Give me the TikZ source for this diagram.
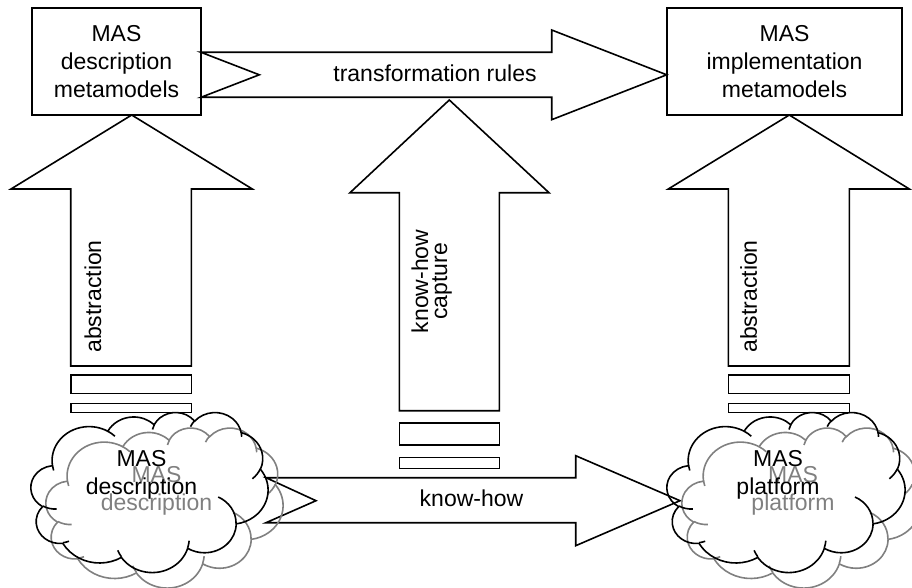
\documentclass[tikz,border=0pt]{standalone}
\usepackage{fontspec}
\setmainfont{Liberation Sans}

% Elliptic arc given by radii and by visual start/sweep angles (degrees):
% the visual angles are turned into the parametric ones TikZ expects.
\newcommand\ooarc[4]{arc[x radius=#1, y radius=#2,
  start angle={atan2((#1)*sin(#3),(#2)*cos(#3))},
  delta angle={mod(atan2((#1)*sin((#3)+(#4)),(#2)*cos((#3)+(#4)))-atan2((#1)*sin(#3),(#2)*cos(#3))+720,360)}]}

% Cloud outline on a 432 x 432 grid
\def\cloudoutline{(39.00,143.70)
  \ooarc{67.53}{91.90}{-190.4875}{123.7805}
  \ooarc{53.33}{72.67}{-144.1024}{89.9452}
  \ooarc{43.65}{59.45}{-145.8079}{99.7230}
  \ooarc{48.57}{65.95}{-130.9861}{117.2417}
  \ooarc{53.33}{72.73}{-78.7089}{109.0269}
  \ooarc{67.75}{92.20}{-46.2673}{130.2690}
  \ooarc{57.85}{78.67}{0.6250}{114.0333}
  \ooarc{67.52}{92.15}{22.4516}{115.1726}
  \ooarc{77.20}{105.43}{66.2426}{75.7110}
  \ooarc{43.60}{59.18}{-274.9421}{146.7356}
  \ooarc{43.45}{59.45}{-246.8285}{152.5189} -- cycle}

% Short inner arcs where the puffs meet
\def\cloudinner{
  (46.93,261.77) \ooarc{43.45}{59.45}{86.742}{26.4295}
  (69.28,348.99) \ooarc{43.60}{59.18}{73.6105}{11.4475}
  (164.78,390.90) \ooarc{67.52}{92.15}{137.6242}{14.0811}
  (288.27,347.51) \ooarc{67.52}{92.15}{6.4533}{15.9984}
  (341.29,229.54) \ooarc{57.85}{78.67}{-70.2924}{70.9174}
  (417.98,153.54) \ooarc{53.33}{72.73}{30.3180}{27.7515}
  (383.24,54.26) \ooarc{48.57}{65.95}{-13.7443}{14.8589}
  (290.78,39.52) \ooarc{48.57}{65.95}{-149.1815}{18.1954}
  (221.41,47.20) \ooarc{43.65}{59.45}{-163.4943}{17.6864}
  (140.00,51.92) \ooarc{67.53}{91.90}{-66.7070}{12.3194}
  (41.27,157.89) \ooarc{67.53}{91.90}{157.6544}{11.8582}}

% #1 = position of the top-left corner, #2 = width, #3 = height, #4 = colour
\newcommand\puffcloud[4]{%
  \begin{scope}[shift={#1}, x=#2pt/432, y=-#3pt/432]
    \draw[outline, draw=#4] \cloudoutline;
    \draw[outline, draw=#4] \cloudinner;
  \end{scope}}

\definecolor{shade}{RGB}{128,128,128}

\begin{document}
\begin{tikzpicture}[x=1pt, y=-1pt, line join=miter,
  outline/.style={draw=black, line width=1.6pt},
  txt/.style={font=\fontsize{23}{28}\selectfont, inner sep=0pt, align=center},
  metabox/.style={outline, txt, minimum height=107pt}]

\useasboundingbox (0,0) rectangle (912,588);

% metamodel boxes
\node[metabox, minimum width=169pt] (descmm) at (116.5,61.5) {MAS\\description\\metamodels};
\node[metabox, minimum width=235pt] (implmm) at (784.5,61.5) {MAS\\implementation\\metamodels};

% transformation rules (notched arrow)
\draw[outline] (201,52.3) -- (551.7,52.3) -- (551.7,30) -- (666.7,74.8)
  -- (551.7,119.7) -- (551.7,97.3) -- (201,97.3) -- (259.3,74.8) -- cycle;
\node[txt] (rules) at (435,73.4) {transformation rules};

% abstraction (left striped arrow)
\draw[outline] (131.7,115) -- (252.3,189) -- (191.3,189) -- (191.3,366)
  -- (70.7,366) -- (70.7,189) -- (11,189) -- cycle;
\draw[outline] (70.7,375) rectangle (191.3,393.3);
\draw[outline] (70.7,403.3) rectangle (191.3,412.3);
\node[txt, rotate=90] (absl) at (92.8,296.5) {abstraction};

% know-how capture (middle striped arrow)
\draw[outline] (449.3,100) -- (549,192.7) -- (499.3,192.7) -- (499.3,410.7)
  -- (399.3,410.7) -- (399.3,192.7) -- (350,192.7) -- cycle;
\draw[outline] (399.3,422.7) rectangle (499.3,445);
\draw[outline] (399.3,457.3) rectangle (499.3,468.3);
\node[txt, rotate=90, font=\fontsize{23}{19}\selectfont] (capture) at (431.7,281.5) {know-how\\capture};

% abstraction (right striped arrow)
\draw[outline] (789.3,115) -- (909.3,189) -- (849.3,189) -- (849.3,366)
  -- (728.3,366) -- (728.3,189) -- (668.3,189) -- cycle;
\draw[outline] (728.3,375) rectangle (849.3,393.3);
\draw[outline] (728.3,403.3) rectangle (849.3,412.3);
\node[txt, rotate=90] (absr) at (748.6,296.5) {abstraction};

% know-how (notched arrow)
\draw[outline] (266,477.7) -- (575.7,477.7) -- (575.7,455.7) -- (680,500.7)
  -- (575.7,545.7) -- (575.7,522.7) -- (266,522.7) -- (316,500.7) -- cycle;
\node[txt] (knowhow) at (471.5,498.4) {know-how};

% clouds with their shadows
\puffcloud{(46,427.5)}{237}{160}{shade}
\node[txt, text=shade] (descshadow) at (156.5,490.5) {MAS\\description};
\puffcloud{(31,412)}{237}{160}{black}
\node[txt] (desc) at (141.5,475) {MAS\\description};

\puffcloud{(682,427.5)}{238}{160}{shade}
\node[txt, text=shade] (platshadow) at (793,490.5) {MAS\\platform};
\puffcloud{(667,412)}{238}{160}{black}
\node[txt] (plat) at (778,475) {MAS\\platform};

\end{tikzpicture}
\end{document}
